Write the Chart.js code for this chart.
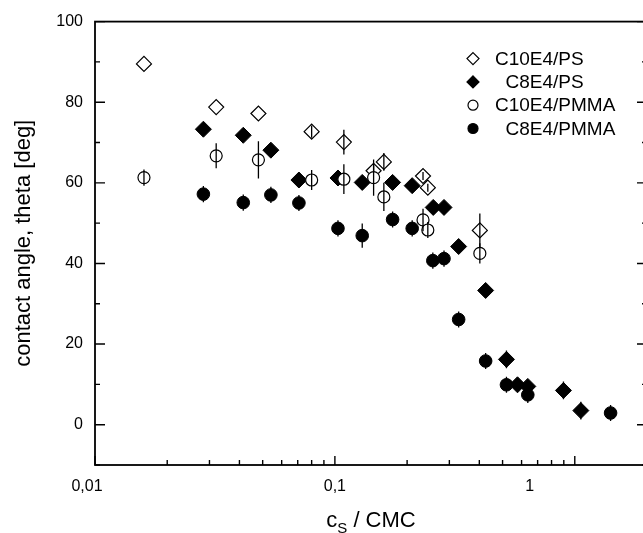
<!DOCTYPE html>
<html>
<head>
<meta charset="utf-8">
<script src="https://cdn.jsdelivr.net/npm/chart.js@4.4.0/dist/chart.umd.min.js"></script>
<style>
  html, body { margin: 0; padding: 0; background: #fff; overflow: hidden; }
</style>
</head>
<body>
<canvas id="angleChart" width="660" height="533"></canvas>
<script>
// c_S / CMC and contact angle [deg]
const psC10x   = [0.016, 0.032, 0.048, 0.080, 0.109, 0.145, 0.160, 0.233, 0.244, 0.402];
const psC10y   = [89.5, 78.8, 77.2, 72.7, 70.1, 63.0, 65.2, 61.7, 58.8, 48.2];
const psC10err = [0, 0, 0, 1.5, 3.1, 1.5, 2.2, 1, 1, 4.2];

const psC8x   = [0.0283, 0.0415, 0.0541, 0.0708, 0.103, 0.130, 0.174, 0.210, 0.257, 0.285, 0.328, 0.425, 0.519, 0.577, 0.637, 0.897, 1.06];
const psC8y   = [73.3, 71.8, 68.1, 60.7, 61.2, 60.1, 60.1, 59.3, 53.9, 53.9, 44.2, 33.3, 16.2, 9.9, 9.5, 8.5, 3.5];
const psC8err = [1, 1, 1, 1, 1, 1, 1, 1, 1, 1, 1, 1, 2.2, 1, 1, 2.2, 2.2];

const pmmaC10x   = [0.016, 0.032, 0.048, 0.080, 0.109, 0.145, 0.160, 0.233, 0.244, 0.402];
const pmmaC10y   = [61.3, 66.7, 65.7, 60.7, 60.9, 61.3, 56.5, 50.8, 48.3, 42.5];
const pmmaC10err = [2, 3.1, 4.6, 2.5, 3.7, 4.5, 3.5, 2.8, 2, 2.5];

const pmmaC8x   = [0.0283, 0.0415, 0.0541, 0.0708, 0.103, 0.130, 0.174, 0.210, 0.256, 0.285, 0.328, 0.425, 0.519, 0.637, 1.41];
const pmmaC8y   = [57.2, 55.1, 57.0, 55.0, 48.7, 46.9, 50.9, 48.7, 40.7, 41.2, 26.1, 15.8, 9.9, 7.4, 2.9];
const pmmaC8err = [2, 2, 2, 2, 2, 3, 2, 2, 2, 2, 2, 2, 2, 2, 2];

const seriesLabels = ['C10E4/PS', '  C8E4/PS', 'C10E4/PMMA', '  C8E4/PMMA'];

// axis ticks
const xTickValues = [0.01, 0.02, 0.03, 0.04, 0.05, 0.06, 0.07, 0.08, 0.09,
                     0.1, 0.2, 0.3, 0.4, 0.5, 0.6, 0.7, 0.8, 0.9, 1, 2];
const xMajorTicks = [0.01, 0.1, 1];
const xTickLabels = ['0,01', '0,1', '1'];
// the original figure sets its x labels a little left of the ticks
const xLabelShift = [-8, 0, -45];

const FONT = '"Liberation Sans", Arial, Helvetica, sans-serif';

function points(xs, ys) {
  return xs.map((x, i) => ({ x: x, y: ys[i] }));
}

// vertical error bars, drawn after each dataset
const errorBars = {
  id: 'errorBars',
  afterDatasetDraw(chart, args) {
    const ds = chart.data.datasets[args.index];
    if (!ds.errors) return;
    const ctx = chart.ctx;
    const ys = chart.scales.y;
    ctx.save();
    ctx.strokeStyle = '#000';
    ctx.lineWidth = 1.3;
    ctx.beginPath();
    args.meta.data.forEach((pt, i) => {
      const e = ds.errors[i];
      if (!e) return;
      const v = ds.data[i].y;
      ctx.moveTo(pt.x, ys.getPixelForValue(v + e));
      ctx.lineTo(pt.x, ys.getPixelForValue(v - e));
    });
    ctx.stroke();
    ctx.restore();
  }
};

// frame with inward tick marks, plus the x tick labels
const frameTicks = {
  id: 'frameTicks',
  afterDraw(chart) {
    const ctx = chart.ctx;
    const { left, right, top, bottom } = chart.chartArea;
    const xs = chart.scales.x, ys = chart.scales.y;
    ctx.save();
    ctx.strokeStyle = '#000';
    ctx.lineWidth = 1.4;
    ctx.beginPath();
    xs.ticks.forEach(t => {
      const px = xs.getPixelForValue(t.value);
      const len = xMajorTicks.includes(t.value) ? 9 : 5;
      ctx.moveTo(px, bottom);
      ctx.lineTo(px, bottom - len);
    });
    ys.ticks.forEach(t => {
      const py = ys.getPixelForValue(t.value);
      const len = t.value % 20 === 0 ? 10 : 5;
      ctx.moveTo(left, py);
      ctx.lineTo(left + len, py);
      ctx.moveTo(right, py);
      ctx.lineTo(right - len, py);
    });
    ctx.stroke();
    ctx.lineWidth = 1.8;
    ctx.strokeRect(left, top, right - left, bottom - top);

    ctx.fillStyle = '#000';
    ctx.font = '16px ' + FONT;
    ctx.textAlign = 'center';
    ctx.textBaseline = 'middle';
    xMajorTicks.forEach((v, i) => {
      ctx.fillText(xTickLabels[i], xs.getPixelForValue(v) + xLabelShift[i], bottom + 22);
    });
    ctx.restore();
  }
};

// legend inside the plot, top right
const insideLegend = {
  id: 'insideLegend',
  afterDraw(chart) {
    const ctx = chart.ctx;
    const { right, top } = chart.chartArea;
    const mx = right - 174;
    ctx.save();
    ctx.font = '19px ' + FONT;
    ctx.textBaseline = 'middle';
    chart.data.datasets.forEach((ds, i) => {
      const y = top + 37 + i * 23.3;
      ctx.beginPath();
      if (ds.pointStyle === 'rectRot') {
        const r = 6;
        ctx.moveTo(mx, y - r);
        ctx.lineTo(mx + r, y);
        ctx.lineTo(mx, y + r);
        ctx.lineTo(mx - r, y);
        ctx.closePath();
      } else {
        ctx.arc(mx, y, 5, 0, Math.PI * 2);
      }
      ctx.fillStyle = ds.backgroundColor;
      ctx.fill();
      ctx.lineWidth = 1.2;
      ctx.strokeStyle = '#000';
      ctx.stroke();
      ctx.fillStyle = '#000';
      ctx.fillText(ds.label, mx + 22, y + 1);
    });
    ctx.restore();
  }
};

// x axis title with subscript
const xTitle = {
  id: 'xTitle',
  afterDraw(chart) {
    const ctx = chart.ctx;
    const { left, right } = chart.chartArea;
    const big = '22px ' + FONT;
    const small = '15px ' + FONT;
    ctx.save();
    ctx.fillStyle = '#000';
    ctx.textBaseline = 'alphabetic';
    ctx.font = big;
    const w1 = ctx.measureText('c').width;
    const w3 = ctx.measureText(' / CMC').width;
    ctx.font = small;
    const w2 = ctx.measureText('S').width;
    let x = (left + right) / 2 - (w1 + w2 + w3) / 2;
    const y = chart.height - 6;
    ctx.font = big;
    ctx.fillText('c', x, y);
    x += w1;
    ctx.font = small;
    ctx.fillText('S', x, y + 6);
    x += w2;
    ctx.font = big;
    ctx.fillText(' / CMC', x, y);
    ctx.restore();
  }
};

new Chart(document.getElementById('angleChart'), {
  type: 'scatter',
  data: {
    datasets: [
      {
        label: seriesLabels[0],
        data: points(psC10x, psC10y),
        errors: psC10err,
        pointStyle: 'rectRot',
        pointRadius: 7.5,
        backgroundColor: '#fff',
        borderColor: '#000',
        borderWidth: 1.2,
        order: 4
      },
      {
        label: seriesLabels[1],
        data: points(psC8x, psC8y),
        errors: psC8err,
        pointStyle: 'rectRot',
        pointRadius: 8,
        backgroundColor: '#000',
        borderColor: '#000',
        borderWidth: 1,
        order: 3
      },
      {
        label: seriesLabels[2],
        data: points(pmmaC10x, pmmaC10y),
        errors: pmmaC10err,
        pointStyle: 'circle',
        pointRadius: 6,
        backgroundColor: '#fff',
        borderColor: '#000',
        borderWidth: 1.2,
        order: 2
      },
      {
        label: seriesLabels[3],
        data: points(pmmaC8x, pmmaC8y),
        errors: pmmaC8err,
        pointStyle: 'circle',
        pointRadius: 6.3,
        backgroundColor: '#000',
        borderColor: '#000',
        borderWidth: 1,
        order: 1
      }
    ]
  },
  options: {
    responsive: false,
    animation: false,
    layout: { padding: { top: 20, right: 13, bottom: 0, left: 0 } },
    plugins: {
      legend: { display: false },
      tooltip: { enabled: false }
    },
    scales: {
      x: {
        type: 'logarithmic',
        min: 0.01,
        max: 2,
        border: { display: false },
        grid: { display: false, drawTicks: false },
        afterBuildTicks: axis => {
          axis.ticks = xTickValues.map(v => ({ value: v }));
        },
        afterFit: axis => { axis.height = 68; },
        ticks: {
          autoSkip: false,
          maxRotation: 0,
          callback: () => ''
        },
        title: { display: false }
      },
      y: {
        min: -10,
        max: 100,
        border: { display: false },
        grid: { display: false, drawTicks: false },
        afterFit: axis => { axis.width = 95; },
        ticks: {
          stepSize: 10,
          autoSkip: false,
          padding: 12,
          color: '#000',
          font: { family: FONT, size: 16 },
          callback: v => (v % 20 === 0 ? String(v) : '')
        },
        title: {
          display: true,
          text: 'contact angle, theta [deg]',
          color: '#000',
          font: { family: FONT, size: 22, lineHeight: 1.2 },
          padding: { top: 11, bottom: 0 }
        }
      }
    }
  },
  plugins: [errorBars, frameTicks, insideLegend, xTitle]
});
</script>
</body>
</html>
